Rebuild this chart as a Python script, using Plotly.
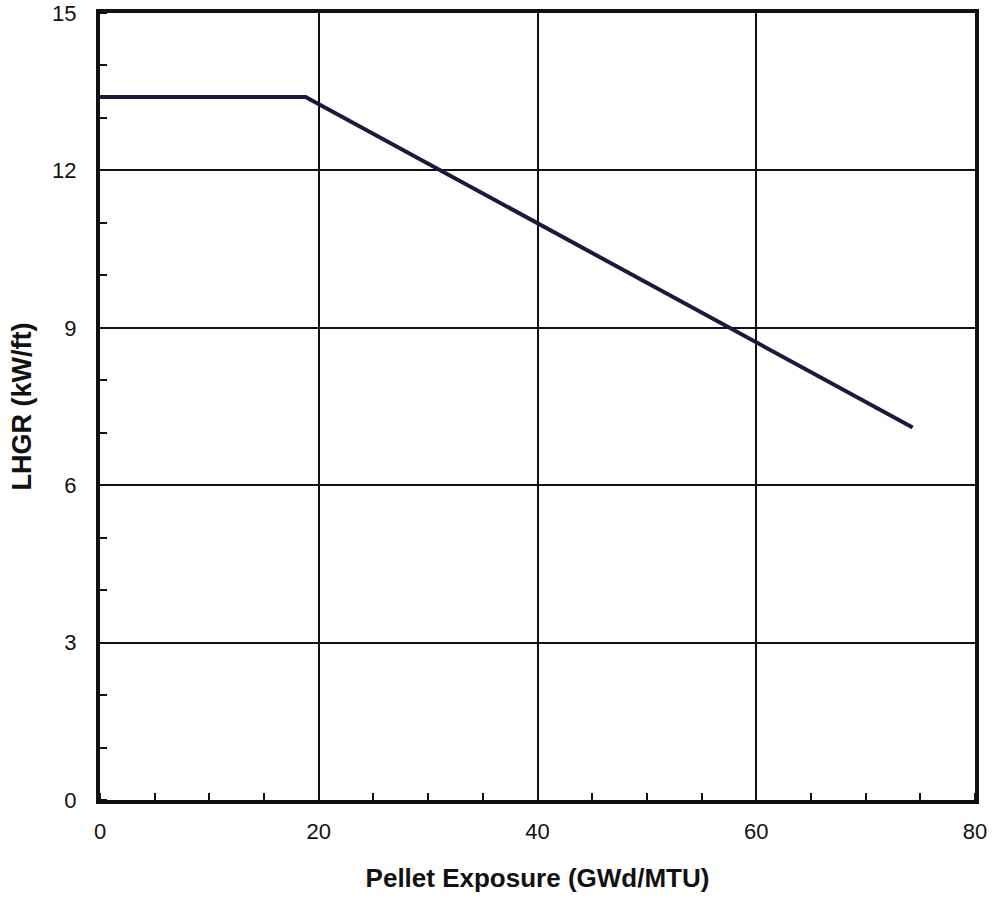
import plotly.graph_objects as go

exposure = [0, 18.8, 74.3]
lhgr = [13.4, 13.4, 7.1]

x_ticks = [0, 20, 40, 60, 80]
y_ticks = [0, 3, 6, 9, 12, 15]

fig = go.Figure()
fig.add_trace(go.Scatter(
    x=exposure, y=lhgr, mode="lines",
    line=dict(color="#1c1a3c", width=4),
    showlegend=False,
))

font_family = "Liberation Sans, Arial, sans-serif"

fig.update_layout(
    width=995, height=899,
    margin=dict(l=100, r=20, t=13, b=99, autoexpand=False),
    paper_bgcolor="white", plot_bgcolor="white",
    font=dict(family=font_family, color="#111111", size=22),
    xaxis=dict(
        range=[0, 80], tickvals=x_ticks, ticktext=[str(v) for v in x_ticks],
        showgrid=True, gridcolor="#111111", gridwidth=2,
        showline=True, linecolor="#111111", linewidth=4, mirror=True,
        ticks="", ticklabelstandoff=9, automargin=False,
        minor=dict(dtick=5, tick0=0, ticks="inside", ticklen=7, tickwidth=2,
                   tickcolor="#111111", showgrid=False),
        zeroline=False,
        title=dict(text="<b>Pellet Exposure (GWd/MTU)</b>", font=dict(size=26), standoff=26),
        tickfont=dict(size=22),
    ),
    yaxis=dict(
        range=[0, 15], tickvals=y_ticks, ticktext=[str(v) for v in y_ticks],
        showgrid=True, gridcolor="#111111", gridwidth=2,
        showline=True, linecolor="#111111", linewidth=4, mirror=True,
        ticks="", ticklabelstandoff=15, automargin=False,
        minor=dict(dtick=1, tick0=0, ticks="inside", ticklen=7, tickwidth=2,
                   tickcolor="#111111", showgrid=False),
        zeroline=False,
        title=dict(text="<b>LHGR (kW/ft)</b>", font=dict(size=27), standoff=14),
        tickfont=dict(size=22),
    ),
)

fig.write_html(
    "out.html",
    config={"displayModeBar": False},
    post_script="document.body.style.margin='0';document.body.style.overflow='hidden';",
)
